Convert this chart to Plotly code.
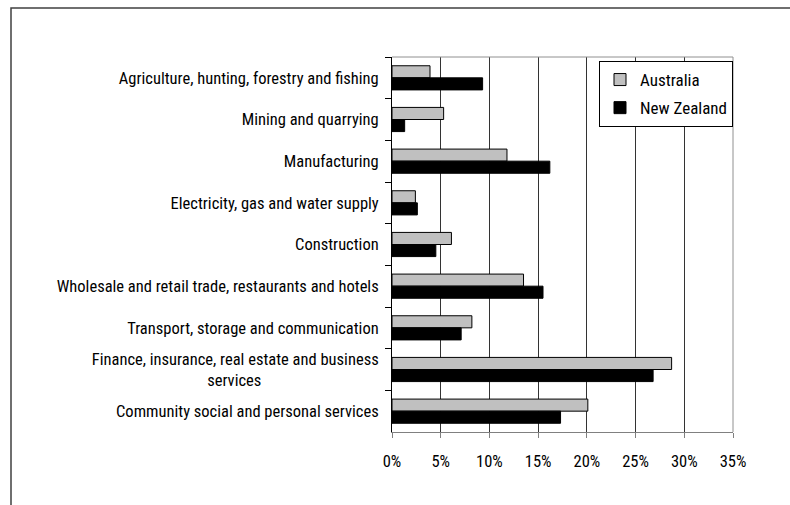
import plotly.graph_objects as go

categories = [
    "Agriculture, hunting, forestry and fishing",
    "Mining and quarrying",
    "Manufacturing",
    "Electricity, gas and water supply",
    "Construction",
    "Wholesale and retail trade, restaurants and hotels",
    "Transport, storage and communication",
    "Finance, insurance, real estate and business<br>services" + "\u00a0" * 31,
    "Community social and personal services",
]
australia = [3.9, 5.3, 11.8, 2.4, 6.1, 13.5, 8.2, 28.7, 20.1]
new_zealand = [9.3, 1.3, 16.2, 2.6, 4.5, 15.5, 7.1, 26.8, 17.3]
x_ticks = [0, 5, 10, 15, 20, 25, 30, 35]
x_labels = ["0%", "5%", "10%", "15%", "20%", "25%", "30%", "35%"]

FONT = "Roboto Condensed, Arial Narrow, sans-serif"

fig = go.Figure()
fig.add_trace(go.Bar(
    y=categories, x=australia, orientation="h", name="Australia",
    marker=dict(color="#c0c0c0", line=dict(color="black", width=1)),
    legendgroup="a",
))
fig.add_trace(go.Bar(
    y=categories, x=new_zealand, orientation="h", name="New Zealand",
    marker=dict(color="black", line=dict(color="black", width=1)),
    legendgroup="b",
))

fig.update_layout(
    width=790, height=505,
    margin=dict(l=392, r=57, t=57, b=73),
    paper_bgcolor="white", plot_bgcolor="white",
    font=dict(family=FONT, size=16.5, color="black"),
    barmode="group", bargap=0.42, bargroupgap=0,
    showlegend=True,
    legend=dict(
        x=(599 - 392) / 341, y=(432 - 61) / 375, xanchor="left", yanchor="top",
        bordercolor="black", borderwidth=1, bgcolor="white",
        font=dict(family=FONT, size=17), tracegroupgap=3,
    ),
)
fig.update_xaxes(
    range=[0, 35], tickvals=x_ticks, ticktext=x_labels,
    showgrid=True, gridcolor="#333333", gridwidth=1,
    showline=True, linecolor="#808080", linewidth=1,
    ticks="outside", ticklen=5, tickcolor="#808080",
    ticklabelstandoff=9, zeroline=False,
)
fig.update_yaxes(
    autorange="reversed", showgrid=False,
    showline=True, linecolor="black", linewidth=1,
    ticks="outside", ticklen=6, tickcolor="black", tickson="boundaries",
    ticklabelstandoff=9,
)

# plot area border (top & right, gray)
fig.add_shape(type="line", xref="paper", yref="paper", x0=0, x1=1, y0=1, y1=1,
              line=dict(color="#909090", width=1))
fig.add_shape(type="line", xref="paper", yref="paper", x0=1, x1=1, y0=0, y1=1,
              line=dict(color="#909090", width=1))
# outer chart frame (left & top edges visible)
fig.add_shape(type="rect", xref="paper", yref="paper",
              x0=(11 - 392) / 341, x1=1.5, y0=-0.5, y1=(432 - 8) / 375,
              line=dict(color="#404040", width=1.5), layer="below")

fig.write_html("out.html")
